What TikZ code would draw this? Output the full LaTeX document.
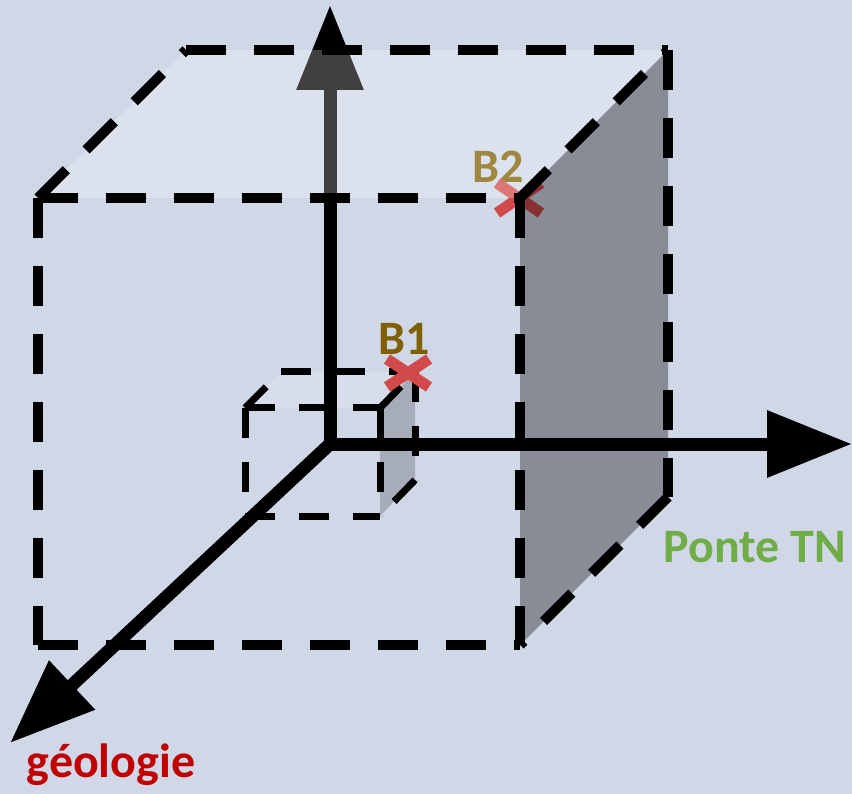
\documentclass[tikz,border=0pt]{standalone}
\usepackage{fontspec}
\setmainfont{Carlito}
\usetikzlibrary{arrows.meta}
\definecolor{bg}{HTML}{D0D8E8}
\definecolor{xred}{HTML}{D04A4A}
\definecolor{brownlbl}{HTML}{7F6000}
\definecolor{greenlbl}{HTML}{70AD47}
\definecolor{redlbl}{HTML}{C00000}
\begin{document}
\begin{tikzpicture}[x=1pt,y=-1pt,
  axis/.style={line width=13pt,-{Triangle[length=85pt,width=64pt]}},
  bigedge/.style={line width=10pt,dash pattern=on 40pt off 28pt},
  smalledge/.style={line width=7pt,dash pattern=on 30pt off 24pt},
  lbl/.style={font=\fontsize{48}{52}\selectfont\bfseries,anchor=base,inner sep=0pt},
  xmark/.style={line width=11pt,draw=xred}]
\useasboundingbox (0,0) rectangle (852,794);
\fill[bg] (0,0) rectangle (852,794);
% coordinates
\coordinate (O) at (330,444);
\coordinate (Ov) at (330,450);
\coordinate (Oh) at (324,444);
\coordinate (ztip) at (330,5);
\coordinate (xtip) at (852,444);
\coordinate (ytip) at (10,743);
% big cube
\coordinate (A) at (38,198);
\coordinate (B) at (520,198);
\coordinate (C) at (520,645);
\coordinate (D) at (38,645);
\coordinate (E) at (186,50);
\coordinate (F) at (668,50);
\coordinate (G) at (668,497);
% small cube
\coordinate (a) at (245,408);
\coordinate (b) at (380,408);
\coordinate (c) at (380,516);
\coordinate (d) at (245,516);
\coordinate (e) at (281,372);
\coordinate (f) at (415,372);
\coordinate (g) at (415,480);
% small cube faces
\fill[white,opacity=0.15] (a) -- (e) -- (f) -- (b) -- cycle;
\fill[black,opacity=0.2] (b) -- (f) -- (g) -- (c) -- cycle;
% axes
\draw[axis] (Ov) -- (ztip);
\draw[axis] (Oh) -- (xtip);
\draw[axis] (O) -- (ytip);
% B2 label and mark (under the faces)
\node[lbl,text=brownlbl] (B2) at (498,183) {B2};
\coordinate (x2c) at (519,198);
\draw[xmark] ([shift={(-22,-15)}]x2c) -- ([shift={(22,15)}]x2c);
\draw[xmark] ([shift={(22,-15)}]x2c) -- ([shift={(-22,15)}]x2c);
% small cube edges
\draw[smalledge] (a) -- (b);
\draw[smalledge] (a) -- (d);
\draw[smalledge] (d) -- (c);
\draw[smalledge] (b) -- (c);
\draw[smalledge] (a) -- (e);
\draw[smalledge] (e) -- (f);
\draw[smalledge] (b) -- (f);
\draw[smalledge] (f) -- (g);
\draw[smalledge] (g) -- (c);
% big cube faces
\fill[white,opacity=0.25] (A) -- (E) -- (F) -- (B) -- cycle;
\fill[black,opacity=0.35] (B) -- (F) -- (G) -- (C) -- cycle;
% big cube edges
\draw[bigedge] (A) -- (B);
\draw[bigedge] (A) -- (D);
\draw[bigedge] (D) -- (C);
\draw[bigedge] (B) -- (C);
\draw[bigedge] (A) -- (E);
\draw[bigedge] (E) -- (F);
\draw[bigedge] (B) -- (F);
\draw[bigedge] (F) -- (G);
\draw[bigedge] (G) -- (C);
% B1 mark and label
\coordinate (x1c) at (408,373);
\draw[xmark] ([shift={(-21,-14)}]x1c) -- ([shift={(21,14)}]x1c);
\draw[xmark] ([shift={(21,-14)}]x1c) -- ([shift={(-21,14)}]x1c);
\node[lbl,text=brownlbl] (B1) at (404,355) {B1};
% axis labels
\node[lbl,text=greenlbl] (ponte) at (755,562) {Ponte TN};
\node[lbl,text=redlbl] (geo) at (111,777) {géologie};
\end{tikzpicture}
\end{document}
